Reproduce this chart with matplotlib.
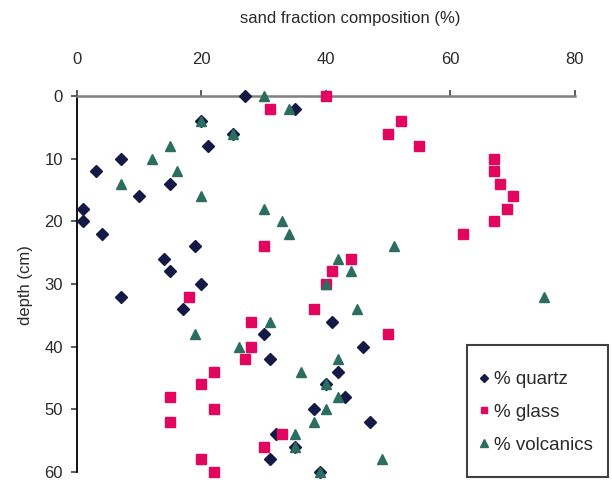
import matplotlib
matplotlib.use("Agg")
import matplotlib.pyplot as plt
from matplotlib.patches import Rectangle

plt.rcParams['font.family'] = ['Liberation Sans', 'DejaVu Sans']

# depth (cm) of each sample
depth = [0, 2, 4, 6, 8, 10, 12, 14, 16, 18, 20, 22, 24, 26, 28, 30,
         32, 34, 36, 38, 40, 42, 44, 46, 48, 50, 52, 54, 56, 58, 60]

# sand fraction composition (%)
quartz = [27, 35, 20, 25, 21, 7, 3, 15, 10, 1, 1, 4, 19, 14, 15, 20,
          7, 17, 41, 30, 46, 31, 42, 40, 43, 38, 47, 32, 35, 31, 39]
glass = [40, 31, 52, 50, 55, 67, 67, 68, 70, 69, 67, 62, 30, 44, 41, 40,
         18, 38, 28, 50, 28, 27, 22, 20, 15, 22, 15, 33, 30, 20, 22]
volcanics = [30, 34, 20, 25, 15, 12, 16, 7, 20, 30, 33, 34, 51, 42, 44, 40,
             75, 45, 31, 19, 26, 42, 36, 40, 42, 40, 38, 35, 35, 49, 39]

series_names = ['% quartz', '% glass', '% volcanics']
x_ticks = [0, 20, 40, 60, 80]
y_ticks = [0, 10, 20, 30, 40, 50, 60]

c_quartz = '#141a45'
c_glass = '#e3065f'
c_volc = '#2b6e5f'
text_col = '#2a2a2a'

fig = plt.figure(figsize=(6.12, 4.87), dpi=100)
ax = fig.add_axes([0.1258, 0.0308, 0.8137, 0.7721])

ax.plot(quartz, depth, linestyle='none', marker='D', ms=6.2, color=c_quartz,
        clip_on=False, label=series_names[0], zorder=3)
ax.plot(glass, depth, linestyle='none', marker='s', ms=6.5, color=c_glass,
        clip_on=False, label=series_names[1], zorder=4)
ax.plot(volcanics, depth, linestyle='none', marker='^', ms=7.8, color=c_volc,
        clip_on=False, label=series_names[2], zorder=5)

ax.set_xlim(0, 80)
ax.set_ylim(60, 0)
ax.set_xticks(x_ticks)
ax.set_yticks(y_ticks)

ax.xaxis.tick_top()
ax.spines['bottom'].set_visible(False)
ax.spines['right'].set_visible(False)
ax.spines['top'].set_color('#808080')
ax.spines['top'].set_linewidth(1.8)
ax.spines['left'].set_color('black')
ax.spines['left'].set_linewidth(1.3)

ax.tick_params(axis='x', direction='out', length=4, width=1.2, color='#404040',
               pad=17, labelsize=12, labelcolor=text_col)
ax.tick_params(axis='y', direction='out', length=4, width=1.2, color='#404040',
               pad=6, labelsize=12, labelcolor=text_col)

fig.text(0.572, 0.962, 'sand fraction composition (%)', ha='center', va='center',
         fontsize=12, color=text_col)
fig.text(0.041, 0.415, 'depth (cm)', ha='center', va='center', rotation=90,
         fontsize=12, color=text_col)

# legend box drawn separately so the padding can be set freely
box = Rectangle((0.763, 0.0205), 0.2304, 0.271, transform=fig.transFigure,
                facecolor='white', edgecolor='#404040', linewidth=1.5, zorder=10)
fig.patches.append(box)

leg = fig.legend(loc='upper left', bbox_to_anchor=(0.782, 0.238),
                 frameon=False, fontsize=13.5, markerscale=0.7,
                 labelspacing=0.83, borderpad=0, borderaxespad=0,
                 handlelength=0.55, handletextpad=0.25)
leg.set_zorder(11)
for t in leg.get_texts():
    t.set_color(text_col)

fig.savefig('out.png', dpi=100)
